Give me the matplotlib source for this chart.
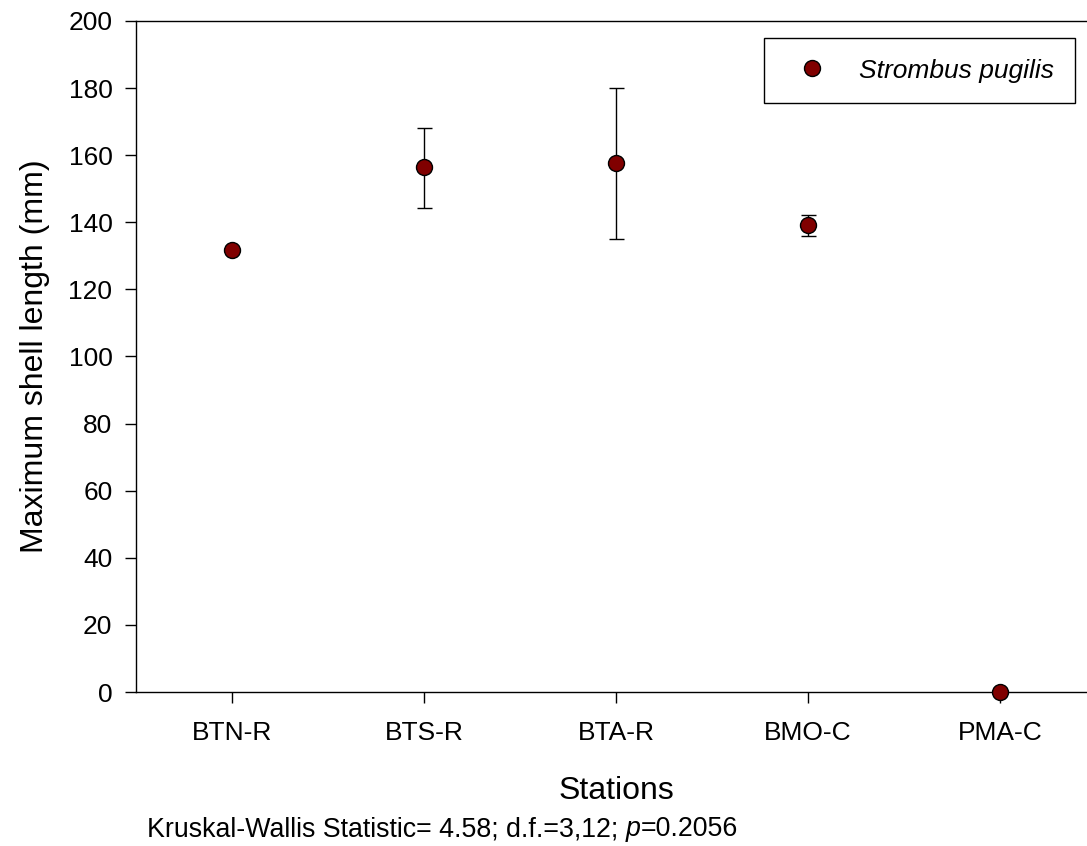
import matplotlib
matplotlib.use("Agg")
import matplotlib.pyplot as plt
from matplotlib.lines import Line2D

plt.rcParams['font.family'] = ['Liberation Sans', 'DejaVu Sans']

# station means and error bar limits (mm)
stations = ["BTN-R", "BTS-R", "BTA-R", "BMO-C", "PMA-C"]
mean_length = [131.7, 156.4, 157.6, 139.2, 0.0]
err_low = [0.0, 12.2, 22.7, 3.2, 0.0]
err_high = [0.0, 11.8, 22.3, 3.0, 0.0]
species = "Strombus pugilis"

fig = plt.figure(figsize=(10.87, 8.46), dpi=100)
ax = fig.add_axes([136 / 1087, 154 / 846, 960 / 1087, 671 / 846])

x = list(range(1, len(stations) + 1))
ax.errorbar(x, mean_length, yerr=[err_low, err_high], fmt='o', color='black',
            ecolor='black', elinewidth=1, capsize=5.4, capthick=1,
            markerfacecolor='#800000', markeredgecolor='black',
            markeredgewidth=1, markersize=11.5,
            clip_on=False, zorder=3)

ax.set_xlim(0.5, 5.5)
ax.set_ylim(0, 200)
ax.set_yticks(range(0, 201, 20))
ax.set_xticks(x)
ax.set_xticklabels(stations)
ax.tick_params(axis='both', direction='out', length=8, width=1,
               labelsize=19, color='black')
ax.tick_params(axis='y', pad=9)
ax.tick_params(axis='x', pad=13)
for s in ax.spines.values():
    s.set_linewidth(1)

ax.set_ylabel("Maximum shell length (mm)", fontsize=23, labelpad=13)
ax.set_xlabel("Stations", fontsize=23, labelpad=22)

# legend shows the plain marker only
handle = Line2D([], [], linestyle='none', marker='o', markersize=11.5,
                markerfacecolor='#800000', markeredgecolor='black',
                markeredgewidth=1)
leg = ax.legend([handle], [species], loc='upper right',
                bbox_to_anchor=(1075 / 1087, 1 - 38 / 846),
                bbox_transform=fig.transFigure, fancybox=False, framealpha=1,
                edgecolor='black', prop={'size': 19, 'style': 'italic'},
                borderpad=0.78, handlelength=2.12, handletextpad=0.72,
                numpoints=1, borderaxespad=0)
leg.get_frame().set_linewidth(1)

# Kruskal-Wallis note below the axis title, italic p
t1 = fig.text(147 / 1087, 1 - 836 / 846,
              "Kruskal-Wallis Statistic= 4.58; d.f.=3,12; ", fontsize=19.3,
              ha='left', va='baseline')
t2 = ax.annotate("p", xy=(1, 0), xycoords=t1, fontsize=19.3, style='italic',
                 ha='left', va='bottom')
ax.annotate("=0.2056", xy=(1, 0), xycoords=t2, fontsize=19.3,
            ha='left', va='bottom')

fig.savefig("out.png", dpi=100)
